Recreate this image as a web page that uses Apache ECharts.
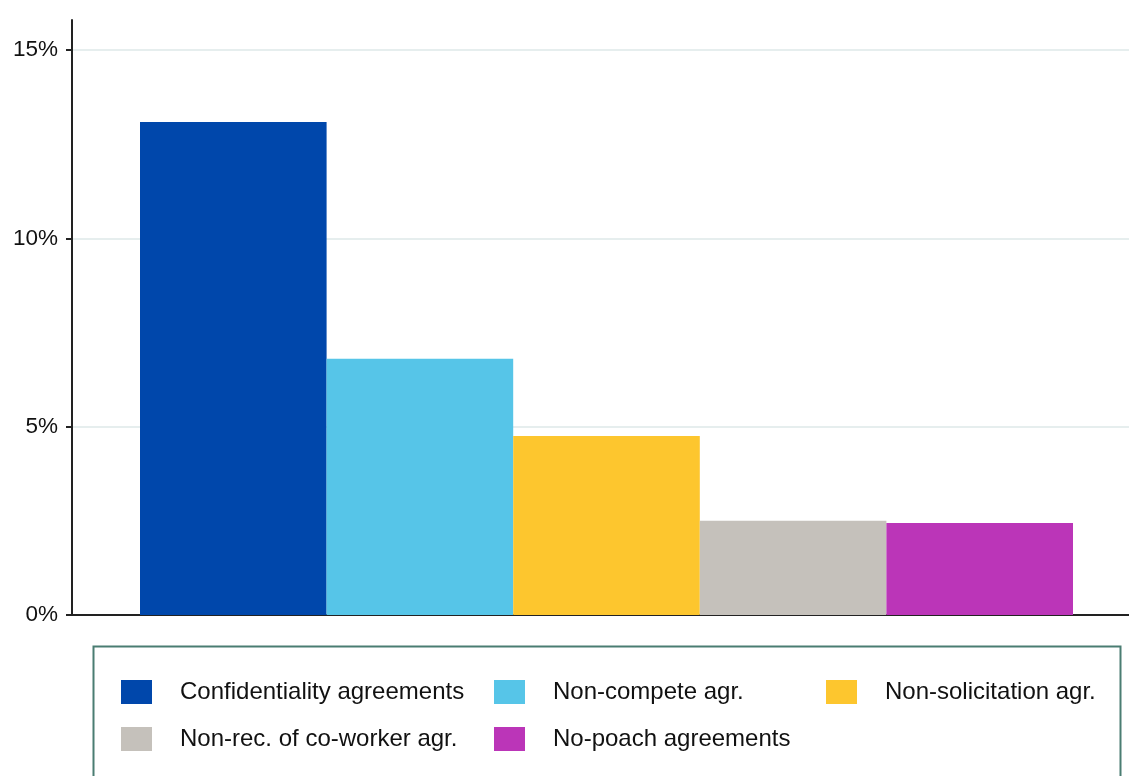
<!DOCTYPE html>
<html><head><meta charset="utf-8">
<script src="https://cdn.jsdelivr.net/npm/echarts@6/dist/echarts.min.js"></script>
<style>html,body{margin:0;padding:0;background:#fff}#c{width:1129px;height:776px}</style>
</head><body><div id="c"></div>
<script>
const seriesNames = ['Confidentiality agreements','Non-compete agr.','Non-solicitation agr.','Non-rec. of co-worker agr.','No-poach agreements'];
const seriesValues = [13.09, 6.80, 4.75, 2.50, 2.44];
const seriesColors = ['#0047AB','#56C5E8','#FDC62E','#C5C1BB','#BB35B8'];
const yTicks = [0, 5, 10, 15];

const chart = echarts.init(document.getElementById('c'), null, {renderer:'canvas'});
const font = 'Liberation Sans, Arial, sans-serif';
const legendPos = [[121,680],[494,680],[826,680],[121,727],[494,727]];

const barSeries = seriesNames.map((n,i)=>({
  name:n, type:'bar', xAxisIndex:0, yAxisIndex:0, data:[seriesValues[i]],
  barWidth:186.6, barGap:'0%', itemStyle:{color:seriesColors[i]}
}));
// invisible spacer so the bar group sits slightly right of the plot centre
barSeries.unshift({name:'spacer', type:'bar', data:[null], barWidth:12, barGap:'0%', silent:true, itemStyle:{color:'rgba(0,0,0,0)'}});

const option = {
  animation:false,
  grid:[
    {left:72, right:0, top:50, bottom:161},
    {left:72, right:0, top:20, bottom:161}
  ],
  xAxis:[
    {type:'category', gridIndex:0, data:[''], axisLine:{show:true,lineStyle:{color:'#222',width:2}}, axisTick:{show:false}, axisLabel:{show:false}},
    {type:'category', gridIndex:1, data:[''], show:false}
  ],
  yAxis:[
    {type:'value', gridIndex:0, min:yTicks[0], max:yTicks[yTicks.length-1], interval:5,
     axisLine:{show:true,lineStyle:{color:'#222',width:2}},
     axisTick:{show:true,length:6,lineStyle:{color:'#222',width:2}},
     axisLabel:{formatter:v=>v+'%', fontFamily:font, fontSize:22.5, color:'#111', margin:14, padding:[4,0,0,0]},
     splitLine:{show:true,lineStyle:{color:'#E6EEEE',width:2}}},
    {type:'value', gridIndex:1, min:0, max:1,
     axisLine:{show:true,lineStyle:{color:'#222',width:2}},
     axisTick:{show:false}, axisLabel:{show:false}, splitLine:{show:false}}
  ],
  legend: seriesNames.map((n,i)=>({
    data:[n], left:legendPos[i][0], top:legendPos[i][1], itemWidth:31, itemHeight:24,
    icon:'rect', padding:0,
    textStyle:{fontFamily:font, fontSize:24, color:'#111', padding:[0,0,0,23]}
  })),
  graphic:[{type:'rect', left:91, top:644, shape:{width:1027, height:150},
    style:{fill:'none', stroke:'#4A7D72', lineWidth:2}, silent:true}],
  series: barSeries
};
chart.setOption(option);
</script></body></html>
